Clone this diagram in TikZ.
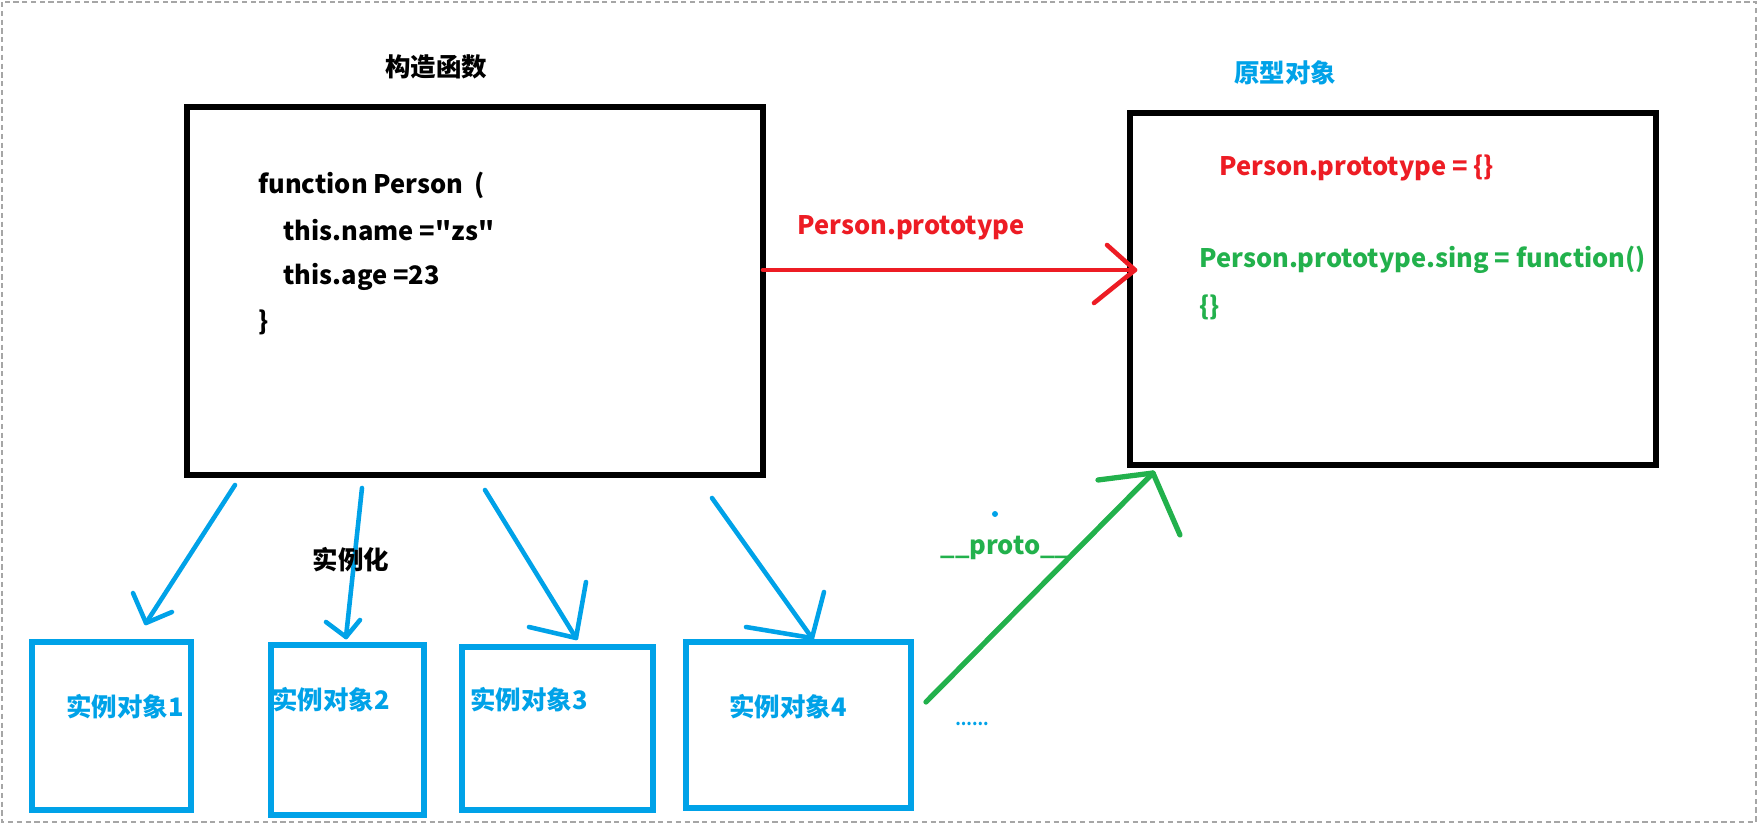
\documentclass[tikz,border=0pt]{standalone}
\usepackage{fontspec}
\newfontfamily\diagfont{Noto Sans CJK SC}
\definecolor{paintred}{HTML}{ED1C24}
\definecolor{paintgreen}{HTML}{22B14C}
\definecolor{paintblue}{HTML}{00A2E8}
\begin{document}
\begin{tikzpicture}[
	x=0.2mm, y=-0.2mm,
	every node/.style={ font=\diagfont\fontsize{14.5}{17}\selectfont\bfseries, inner sep=0pt },
	box/.style={ draw, line width=3.2pt },
	objbox/.style={ draw=paintblue, line width=3pt },
	pen/.style={ line width=2.6pt, line cap=round, line join=round }
]
\useasboundingbox (0,0) rectangle (1761,824);
\draw[gray!70, line width=0.6pt, dash pattern=on 3pt off 2pt] (2,2) rectangle (1756,822);

% constructor and prototype
\node at (436,67) (ctorlabel) {构造函数};
\node at (475,291) (ctor) [box, minimum width=11.52cm, minimum height=7.36cm] {};
\node at (258,185) (code1) [anchor=west] {function Person\ \ (};
\node at (283,230) (code2) [anchor=west] {this.name ="zs"};
\node at (283,277) (code3) [anchor=west] {this.age =23};
\node at (258,322) (code4) [anchor=west] {\}};

\node at (1285,73) (protolabel) [text=paintblue] {原型对象};
\node at (1393,289) (proto) [box, minimum width=10.52cm, minimum height=7.04cm] {};
\node at (1219,168) (protoinit) [anchor=west, text=paintred] {Person.prototype = \{\}};
\node at (1199,260) (protosing) [anchor=west, text=paintgreen] {Person.prototype.sing = function()};
\node at (1199,307) (protobody) [anchor=west, text=paintgreen] {\{\}};

% prototype link
\coordinate (rs) at (763,270);
\coordinate (rt) at (1135,270);
\draw[pen, paintred] (rs) -- (rt);
\draw[pen, paintred] (rt) ++(-28,-25) -- (rt) -- ++(-41,33);
\node at (911,228) (protoedge) [text=paintred] {Person.prototype};

% instances
\node at (111.5,726) (obj1) [objbox, minimum width=3.18cm, minimum height=3.36cm] {};
\node at (347.5,730) (obj2) [objbox, minimum width=3.06cm, minimum height=3.40cm] {};
\node at (557.5,728.5) (obj3) [objbox, minimum width=3.82cm, minimum height=3.26cm] {};
\node at (798.5,725) (obj4) [objbox, minimum width=4.50cm, minimum height=3.32cm] {};

\coordinate (s1) at (235,485); \coordinate (t1) at (146,623);
\coordinate (s2) at (362,488); \coordinate (t2) at (346,637);
\coordinate (s3) at (485,490); \coordinate (t3) at (576,638);
\coordinate (s4) at (712,498); \coordinate (t4) at (812,638);
\foreach \s/\t in {s1/t1,s2/t2,s3/t3,s4/t4} \draw[pen, paintblue] (\s) -- (\t);
\draw[pen, paintblue] (t1) ++(-13,-30) -- (t1) -- ++(26,-11);
\draw[pen, paintblue] (t2) ++(-20,-15) -- (t2) -- ++(14,-17);
\draw[pen, paintblue] (t3) ++(-47,-11) -- (t3) -- ++(10,-56);
\draw[pen, paintblue] (t4) ++(-66,-11) -- (t4) -- ++(12,-46);
\node at (351,560) (instlabel) {实例化};

\node at (125,707) (name1) [text=paintblue] {实例对象1};
\node at (331,700) (name2) [text=paintblue] {实例对象2};
\node at (529,700) (name3) [text=paintblue] {实例对象3};
\node at (788,707) (name4) [text=paintblue] {实例对象4};
\node at (972,724) (more) [text=paintblue, font=\diagfont\fontsize{9}{10}\selectfont\bfseries] {......};

% __proto__ link
\coordinate (gs) at (926,702);
\coordinate (gt) at (1153,473);
\draw[pen, paintgreen, line width=3pt] (gs) -- (gt);
\draw[pen, paintgreen, line width=3pt] (gt) ++(-55,7) -- (gt) -- ++(27,62);
\node at (1005,548) (protolink) [text=paintgreen] {\_\_proto\_\_};
\fill[paintblue] (995,514) circle (3);

\end{tikzpicture}
\end{document}
